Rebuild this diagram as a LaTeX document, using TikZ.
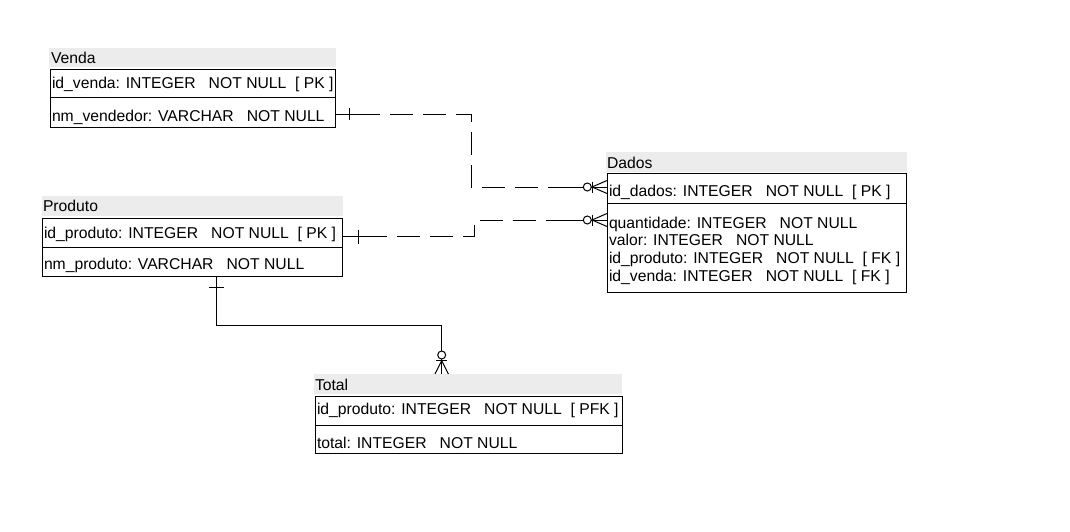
\documentclass[tikz,border=0pt]{standalone}
\usepackage{fontspec}
\setmainfont{Liberation Sans}
\usetikzlibrary{calc}
\definecolor{bandgray}{RGB}{236,236,236}
\begin{document}
\begin{tikzpicture}[x=1pt,y=-1pt,
  band/.style={fill=bandgray, draw=none, inner sep=0pt, outer sep=0pt, anchor=north west},
  tbox/.style={draw=black, line width=1pt, inner sep=0pt, outer sep=0pt, anchor=north west},
  txt/.style={anchor=base west, inner sep=0pt, outer sep=0pt, font=\fontsize{15.7pt}{18pt}\selectfont},
  conn/.style={line width=1pt, line cap=butt},
  dashconn/.style={line width=1pt, dash pattern=on 23pt off 10pt, dash phase=23pt}]

\fill[white] (0,0) rectangle (1070,531);
\useasboundingbox (0,0) rectangle (1070,531);

% ---------------- Venda ----------------
\node[band, minimum width=287pt, minimum height=19pt] (vendaT) at (49,48) {};
\node[txt] (vendaL) at (51,63) {Venda};
\node[tbox, minimum width=285pt, minimum height=28pt] (vendaR1) at (50,69) {};
\node[tbox, minimum width=285pt, minimum height=30pt] (vendaR2) at (50,97) {};
\node[txt] (vendaA1) at (52,88) {id\_venda: INTEGER\ \ \ NOT NULL\ \ [ PK ]};
\node[txt] (vendaA2) at (52,121) {nm\_vendedor: VARCHAR\ \ \ NOT NULL};

% ---------------- Produto ----------------
\node[band, minimum width=301pt, minimum height=20pt] (produtoT) at (42,196) {};
\node[txt] (produtoL) at (43,211.5) {Produto};
\node[tbox, minimum width=300pt, minimum height=29pt] (produtoR1) at (42,218) {};
\node[tbox, minimum width=300pt, minimum height=29pt] (produtoR2) at (42,247) {};
\node[txt] (produtoA1) at (44,238.5) {id\_produto: INTEGER\ \ \ NOT NULL\ \ [ PK ]};
\node[txt] (produtoA2) at (44,269) {nm\_produto: VARCHAR\ \ \ NOT NULL};

% ---------------- Dados ----------------
\node[band, minimum width=301pt, minimum height=20pt] (dadosT) at (606,152) {};
\node[txt] (dadosL) at (607,168) {Dados};
\node[tbox, minimum width=299pt, minimum height=30pt] (dadosR1) at (607,173) {};
\node[tbox, minimum width=299pt, minimum height=89pt] (dadosR2) at (607,203) {};
\node[txt] (dadosA1) at (609,196) {id\_dados: INTEGER\ \ \ NOT NULL\ \ [ PK ]};
\node[txt] (dadosA2) at (609,228) {quantidade: INTEGER\ \ \ NOT NULL};
\node[txt] (dadosA3) at (609,245.7) {valor: INTEGER\ \ \ NOT NULL};
\node[txt] (dadosA4) at (609,263.4) {id\_produto: INTEGER\ \ \ NOT NULL\ \ [ FK ]};
\node[txt] (dadosA5) at (609,281) {id\_venda: INTEGER\ \ \ NOT NULL\ \ [ FK ]};

% ---------------- Total ----------------
\node[band, minimum width=308pt, minimum height=20pt] (totalT) at (314,374) {};
\node[txt] (totalL) at (315,390) {Total};
\node[tbox, minimum width=307pt, minimum height=29pt] (totalR1) at (315,396) {};
\node[tbox, minimum width=307pt, minimum height=28pt] (totalR2) at (315,425) {};
\node[txt] (totalA1) at (317,414.5) {id\_produto: INTEGER\ \ \ NOT NULL\ \ [ PFK ]};
\node[txt] (totalA2) at (317,448) {total: INTEGER\ \ \ NOT NULL};

% ---------------- connector points ----------------
\coordinate (s1) at ([yshift=-2pt]vendaR2.east);     % (335,114)
\coordinate (e1) at ([yshift=1pt]dadosR1.west);      % (607,187)
\coordinate (b1a) at (471,114);
\coordinate (b1b) at (471,187);

\coordinate (s2) at ([yshift=-4pt]produtoR1.east);   % (342,236.5)
\coordinate (e2) at ([yshift=27.5pt]dadosR2.west);   % (607,220)
\coordinate (b2a) at (474,236.5);
\coordinate (b2b) at (474,220);

\coordinate (s3) at ([xshift=24pt]produtoR2.south);  % (216,276)
\coordinate (e3) at ([xshift=-26.3pt]totalT.north);  % (441.7,374)
\coordinate (b3a) at (216,325);
\coordinate (b3b) at (441.7,325);

% ---------------- Venda -> Dados ----------------
\draw[conn] (s1) -- ($(s1)+(45,0)$);
\draw[dashconn] ($(s1)+(45,0)$) -- (b1a) -- (b1b) -- ($(e1)+(-24,0)$);
\draw[conn] ($(e1)+(-40,0)$) -- ($(e1)+(-24,0)$);
\draw[conn] ($(s1)+(14.3,-6)$) -- ($(s1)+(14.3,6)$);
\draw[conn] ($(e1)+(-19.7,0)$) circle[radius=4pt];
\draw[conn] ($(e1)+(-15,-5.5)$) -- ($(e1)+(-15,5.5)$);
\draw[conn] ($(e1)+(-15.7,0)$) -- (e1);
\draw[conn] ($(e1)+(-15,0)$) -- ($(e1)+(0,-6.5)$);
\draw[conn] ($(e1)+(-15,0)$) -- ($(e1)+(0,6.5)$);

% ---------------- Produto -> Dados ----------------
\draw[conn] (s2) -- ($(s2)+(45,0)$);
\draw[dashconn] ($(s2)+(45,0)$) -- (b2a) -- (b2b) -- ($(e2)+(-24,0)$);
\draw[conn] ($(e2)+(-52,0)$) -- ($(e2)+(-24,0)$);
\draw[conn] ($(s2)+(16.3,-7)$) -- ($(s2)+(16.3,7)$);
\draw[conn] ($(e2)+(-19.7,0)$) circle[radius=4pt];
\draw[conn] ($(e2)+(-15,-5.5)$) -- ($(e2)+(-15,5.5)$);
\draw[conn] ($(e2)+(-15.7,0)$) -- (e2);
\draw[conn] ($(e2)+(-15,0)$) -- ($(e2)+(0,-6.5)$);
\draw[conn] ($(e2)+(-15,0)$) -- ($(e2)+(0,6.5)$);

% ---------------- Produto -> Total ----------------
\draw[conn] (s3) -- (b3a) -- (b3b) -- ($(e3)+(0,-23)$);
\draw[conn] ($(s3)+(-7,11)$) -- ($(s3)+(7.5,11)$);
\draw[conn] ($(e3)+(0,-19)$) circle[radius=4pt];
\draw[conn] ($(e3)+(-5.7,-13.3)$) -- ($(e3)+(5.7,-13.3)$);
\draw[conn] ($(e3)+(0,-15)$) -- (e3);
\draw[conn] ($(e3)+(0,-13.3)$) -- ($(e3)+(-6.7,0)$);
\draw[conn] ($(e3)+(0,-13.3)$) -- ($(e3)+(6.7,0)$);
\end{tikzpicture}
\end{document}
